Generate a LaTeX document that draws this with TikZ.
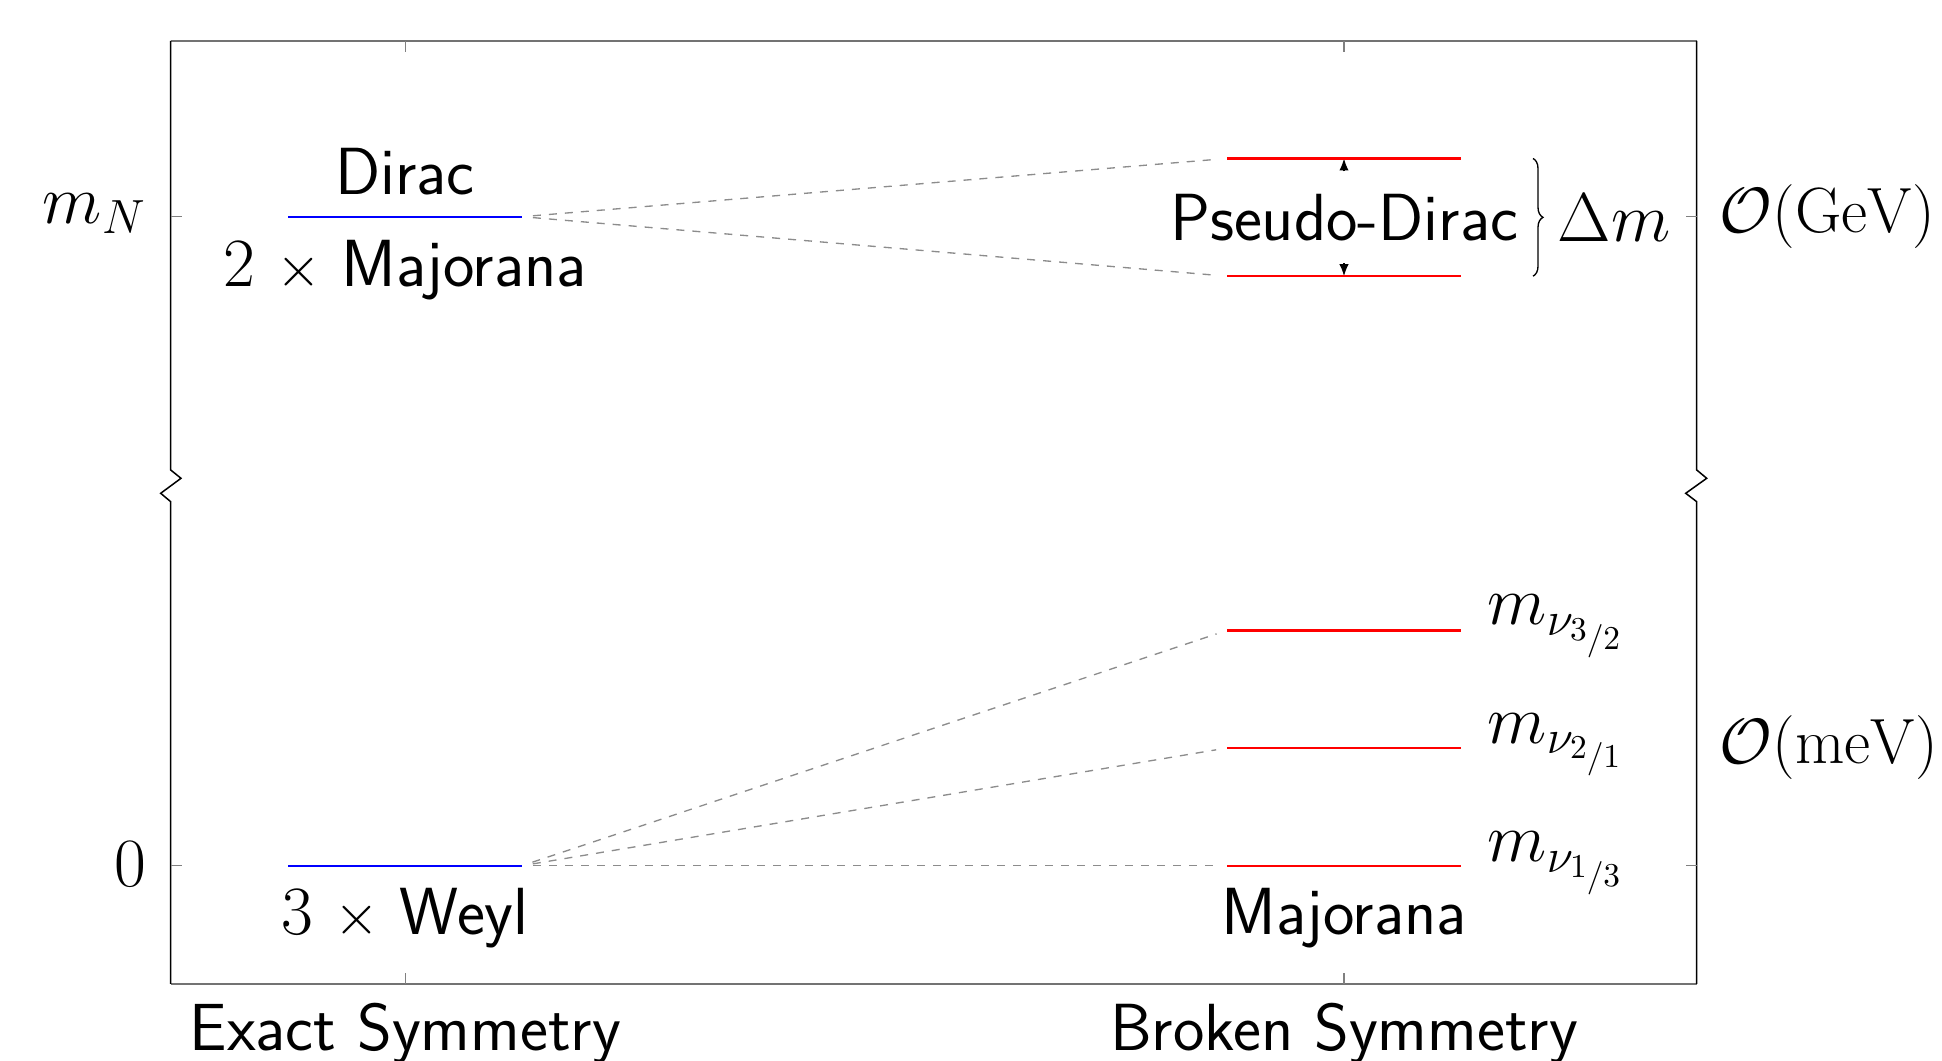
\documentclass[tikz,border=0pt]{standalone}
\usepackage{graphicx}
\usetikzlibrary{arrows.meta,decorations.pathreplacing}
\newcommand{\bigtxt}{\fontsize{20}{24}\selectfont}
% scale labels on the right-hand side
\newcommand{\scalelabel}[1]{\scalebox{0.925}{#1}}
% smaller multiplication sign for the multiplicity labels
\newcommand{\mult}{{\fontsize{16}{20}\selectfont$\times$}}
% slanted fraction used in the neutrino subscripts
\newcommand{\sfr}[2]{\raisebox{2.8pt}{$\scriptscriptstyle #1$}/{\scriptscriptstyle #2}}
\begin{document}
\begin{tikzpicture}[x=0.3pt,y=-0.3pt,
  axisv/.style={line width=0.45pt, black},
  axish/.style={line width=0.45pt, black!55},
  tickmark/.style={line width=0.4pt, black!50},
  lvl/.style={inner sep=0pt, outer sep=0pt, minimum width=70.2pt, minimum height=0pt},
  heavy/.style={blue, line width=0.7pt},
  light/.style={red, line width=0.7pt},
  link/.style={black!45, dash pattern=on 2.4pt off 2.4pt, line width=0.4pt,
               shorten <=3.3pt, shorten >=3.3pt},
  sfl/.style={inner sep=0pt, font=\bigtxt\sffamily},
  mth/.style={inner sep=0pt, font=\bigtxt},
  pdarrow/.style={-{Latex[length=3.6pt,width=2.8pt]}, line width=0.4pt}]
\useasboundingbox (0,0) rectangle (1942,1061);

% frame with broken vertical axes
\draw[axish] (170.7,41) -- (1696.7,41);
\draw[axish] (170.7,984) -- (1696.7,984);
\draw[axisv] (170.7,41) -- (170.7,470) -- (181,478.3) -- (160.7,493.3) -- (170.7,501.7) -- (170.7,984);
\draw[axisv] (1696.7,41) -- (1696.7,470) -- (1706.7,478.3) -- (1685.7,493.3) -- (1696.7,501.7) -- (1696.7,984);

% ticks
\foreach \y in {216.7,865.7} {
  \draw[tickmark] (170.7,\y) -- +(11,0);
  \draw[tickmark] (1696.7,\y) -- +(-11,0);
}
\foreach \x in {405.3,1344} {
  \draw[tickmark] (\x,984) -- +(0,-11);
  \draw[tickmark] (\x,41) -- +(0,11);
}

% energy levels
\node[lvl] (dirac) at (405,216.7) {};
\node[lvl] (weyl)  at (405,865.7) {};
\node[lvl] (pdup)  at (1344,158.5) {};
\node[lvl] (pdlo)  at (1344,276.2) {};
\node[lvl] (n3)    at (1344,630.4) {};
\node[lvl] (n2)    at (1344,748) {};
\node[lvl] (n1)    at (1344,865.7) {};

% splitting links
\draw[link] (dirac.east) -- (pdup.west);
\draw[link] (dirac.east) -- (pdlo.west);
\draw[link] (weyl.east) -- (n3.west);
\draw[link] (weyl.east) -- (n2.west);
\draw[link] (weyl.east) -- (n1.west);

% Pseudo-Dirac pair with splitting arrows
\node[sfl, minimum height=27.2pt] (pd) at (1344,217.5) {Pseudo-Dirac};
\draw[pdarrow] (pd.north) -- (pdup.center);
\draw[pdarrow] (pd.south) -- (pdlo.center);

\draw[heavy] (dirac.west) -- (dirac.east);
\draw[heavy] (weyl.west) -- (weyl.east);
\foreach \n in {pdup,pdlo,n3,n2,n1}
  \draw[light] (\n.west) -- (\n.east);

% brace for the mass splitting
\coordinate (bt) at (1533,158.5);
\coordinate (bb) at (1533,276.2);
\draw[decorate, decoration={brace, amplitude=3pt}, line width=0.4pt] (bt) -- (bb);
\node[mth, anchor=base west] (dm) at (1557,242) {$\Delta m$};

% level labels
\node[sfl, anchor=base] (dtxt) at (405,195) {Dirac};
\node[sfl, anchor=base] (mtxt) at (405,286.7) {$2$ \mult{} Majorana};
\node[sfl, anchor=base] (wtxt) at (405,935) {$3$ \mult{} Weyl};
\node[sfl, anchor=base] (majtxt) at (1344,935) {Majorana};
\node[mth, anchor=base west] (l3) at (1487,625) {$m_{\nu_{\sfr{3}{2}}}$};
\node[mth, anchor=base west] (l2) at (1487,743.3) {$m_{\nu_{\sfr{2}{1}}}$};
\node[mth, anchor=base west] (l1) at (1487,861.7) {$m_{\nu_{\sfr{1}{3}}}$};

% axis labels
\node[mth, anchor=base east] (ymN) at (147,223.3) {$m_N$};
\node[mth, anchor=base east] (y0) at (147,887) {$0$};
\node[mth, anchor=west] (sGeV) at (1719,216.7) {\scalelabel{$\mathcal{O}(\mathrm{GeV})$}};
\node[mth, anchor=west] (smeV) at (1719,748) {\scalelabel{$\mathcal{O}(\mathrm{meV})$}};
\node[sfl, anchor=base] (xex) at (405.3,1051) {Exact Symmetry};
\node[sfl, anchor=base] (xbr) at (1344,1051) {Broken Symmetry};
\end{tikzpicture}
\end{document}
